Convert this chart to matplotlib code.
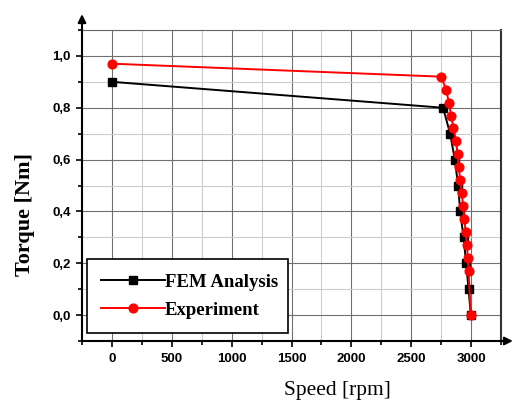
import matplotlib
matplotlib.use("Agg")
import matplotlib.pyplot as plt
from matplotlib.ticker import MultipleLocator, FuncFormatter

fem_speed = [0, 2766, 2825, 2864, 2892, 2909, 2937, 2959, 2979, 2998]
fem_torque = [0.90, 0.80, 0.70, 0.60, 0.50, 0.40, 0.30, 0.20, 0.10, 0.0]
exp_speed = [0, 2750, 2792, 2814, 2834, 2853, 2875, 2887, 2898, 2909, 2923,
             2934, 2945, 2954, 2965, 2973, 2979, 2998]
exp_torque = [0.97, 0.92, 0.87, 0.82, 0.77, 0.72, 0.67, 0.62, 0.57, 0.52, 0.47,
              0.42, 0.37, 0.32, 0.27, 0.22, 0.17, 0.0]

fig = plt.figure(figsize=(5.21, 4.07), dpi=100)
ax = fig.add_axes([82/521, 1-341/407, (501-82)/521, (341-30)/407])

ax.set_xlim(-250, 3250)
ax.set_ylim(-0.1, 1.1)
ax.xaxis.set_major_locator(MultipleLocator(500))
ax.xaxis.set_minor_locator(MultipleLocator(250))
ax.yaxis.set_major_locator(MultipleLocator(0.2))
ax.yaxis.set_minor_locator(MultipleLocator(0.1))
ax.set_xticks([0, 500, 1000, 1500, 2000, 2500, 3000])
ax.yaxis.set_major_formatter(FuncFormatter(lambda v, p: f"{v:.1f}".replace(".", ",")))

ax.grid(which="major", color="#707070", linewidth=0.8)
ax.grid(which="minor", color="#cccccc", linewidth=0.8)
ax.set_axisbelow(True)

ax.plot(fem_speed, fem_torque, color="black", lw=1.4, marker="s", ms=5.5,
        label="FEM Analysis", zorder=3)
ax.plot(exp_speed, exp_torque, color="red", lw=1.4, marker="o", ms=6.3,
        label="Experiment", zorder=4)

for s in ["left", "bottom"]:
    ax.spines[s].set_linewidth(1.5)
    ax.spines[s].set_color("black")
ax.spines["right"].set_color("#333333")
ax.spines["right"].set_linewidth(1.5)
ax.spines["top"].set_color("#666666")
ax.spines["top"].set_linewidth(0.8)

ax.tick_params(which="both", direction="out", width=1.2, labelsize=9.5)
ax.tick_params(which="major", length=4)
ax.tick_params(which="minor", length=3)
ax.tick_params(axis="x", pad=5)
ax.tick_params(axis="y", pad=4)
for lab in ax.get_xticklabels() + ax.get_yticklabels():
    lab.set_fontweight("bold")
    lab.set_family("Liberation Sans")

# axis arrows
ax.annotate("", xy=(0, 1.06), xycoords="axes fraction", xytext=(0, 0.99),
            arrowprops=dict(arrowstyle="-|>", color="black", lw=1.5, mutation_scale=12),
            annotation_clip=False)
ax.annotate("", xy=(1.035, 0), xycoords="axes fraction", xytext=(0.99, 0),
            arrowprops=dict(arrowstyle="-|>", color="black", lw=1.5, mutation_scale=12),
            annotation_clip=False)

leg = ax.legend(loc="lower left", bbox_to_anchor=((86.7-82)/419, (341-333)/311,
                (288-86.7)/419, (333-248)/311), mode="expand",
                prop=dict(family="Liberation Serif", weight="bold", size=13.5),
                frameon=True, fancybox=False, edgecolor="black", framealpha=1,
                handlelength=3.4, borderpad=0.75, labelspacing=0.6, handletextpad=0.0,
                borderaxespad=0)
leg.get_frame().set_linewidth(1.2)
leg.set_zorder(5)

fig.text(337/521, 1-391/407, "Speed [rpm]", ha="center", va="center",
         family="Liberation Serif", fontsize=15.5)
fig.text(25/521, 1-214/407, "Torque [Nm]", ha="center", va="center",
         rotation=90, family="Liberation Serif", fontweight="bold", fontsize=16)

fig.savefig("out.png", dpi=100)
